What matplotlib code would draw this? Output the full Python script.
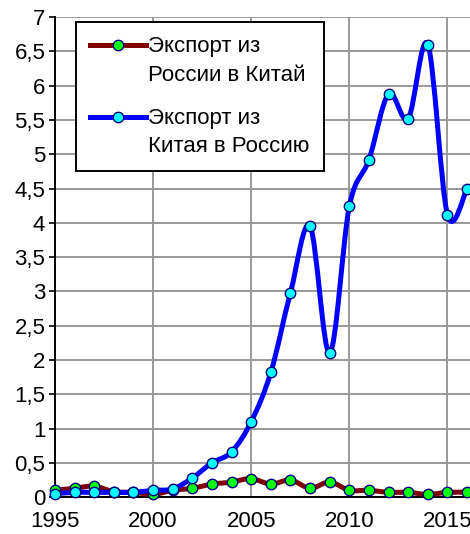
import numpy as np
import matplotlib
matplotlib.use("Agg")
from matplotlib import pyplot as plt
from matplotlib.path import Path
from matplotlib.patches import PathPatch
from matplotlib.lines import Line2D
from matplotlib.legend_handler import HandlerLine2D
from matplotlib.ticker import FuncFormatter

plt.rcParams['font.family'] = ['Liberation Sans', 'DejaVu Sans']

years = list(range(1995, 2017))
# экспорт из России в Китай
ru_to_cn = [0.10, 0.13, 0.16, 0.08, 0.07, 0.04, 0.10, 0.13, 0.19, 0.22, 0.27,
            0.19, 0.25, 0.13, 0.22, 0.10, 0.10, 0.07, 0.07, 0.04, 0.07, 0.07]
# экспорт из Китая в Россию
cn_to_ru = [0.05, 0.07, 0.07, 0.07, 0.07, 0.10, 0.12, 0.28, 0.50, 0.66, 1.10,
            1.82, 2.98, 3.95, 2.10, 4.24, 4.92, 5.88, 5.52, 6.60, 4.12, 4.50]
labels = ["Экспорт из\nРоссии в Китай", "Экспорт из\nКитая в Россию"]


def smooth_path(x, y, t=1 / 6):
    # bezier path through the points, like excel's smoothed line
    p = np.column_stack([x, y]).astype(float)
    n = len(p)
    verts = [p[0]]
    codes = [Path.MOVETO]
    for i in range(n - 1):
        prev = p[i - 1] if i > 0 else p[i]
        nxt = p[i + 2] if i + 2 < n else p[i + 1]
        c1 = p[i] + (p[i + 1] - prev) * t
        c2 = p[i + 1] - (nxt - p[i]) * t
        verts += [c1, c2, p[i + 1]]
        codes += [Path.CURVE4] * 3
    return Path(verts, codes)


class UpHandler(HandlerLine2D):
    # put the legend line next to the first line of the label
    def create_artists(self, legend, orig_handle, xdescent, ydescent, width,
                       height, fontsize, trans):
        arts = super().create_artists(legend, orig_handle, xdescent, ydescent,
                                      width, height, fontsize, trans)
        for a in arts:
            a.set_ydata(np.asarray(a.get_ydata()) + 0.72 * fontsize)
        return arts


fig = plt.figure(figsize=(4.7, 5.34), dpi=100)
ax = fig.add_axes([0.117, 0.069, 0.883, 0.899])

series = [(ru_to_cn, "#800000", "#00FF00"), (cn_to_ru, "#0000FF", "#00FFFF")]
handles = []
for vals, lc, mc in series:
    ax.add_patch(PathPatch(smooth_path(years, vals), fill=False, edgecolor=lc,
                           lw=3.6, capstyle='round', joinstyle='round', zorder=3))
    ax.plot(years, vals, ls='none', marker='o', ms=7.5, mfc=mc, mec="#000080",
            mew=1.0, zorder=4, clip_on=False)
    handles.append(Line2D([], [], color=lc, lw=3.6, marker='o', ms=7.5, mfc=mc,
                          mec="#000080", mew=1.0))

ax.set_xlim(1995, 2016.15)
ax.set_ylim(0, 7)
ax.set_xticks(range(1995, 2016, 5))
ax.set_yticks(np.arange(0, 7.01, 0.5))
ax.yaxis.set_major_formatter(FuncFormatter(lambda v, p: ('%g' % v).replace('.', ',')))
ax.grid(True, color='#999999', lw=1.4)
ax.set_axisbelow(True)
for s in ['top', 'right']:
    ax.spines[s].set_visible(False)
for s in ['left', 'bottom']:
    ax.spines[s].set_linewidth(1.4)
ax.tick_params(labelsize=16, pad=3)
ax.tick_params(axis='y', length=4, width=1.2)
ax.tick_params(axis='x', length=0, pad=10)

leg = ax.legend(handles, labels, loc='upper left', bbox_to_anchor=(0.05, 0.99),
                borderaxespad=0, fontsize=16, frameon=True, fancybox=False,
                edgecolor='black', handlelength=2.5, labelspacing=1.0,
                borderpad=0.65, handletextpad=0.12, framealpha=1,
                handler_map={Line2D: UpHandler()})
leg.get_frame().set_linewidth(1.4)
for t in leg.get_texts():
    t.set_linespacing(1.45)

fig.savefig("out.png", dpi=100)
